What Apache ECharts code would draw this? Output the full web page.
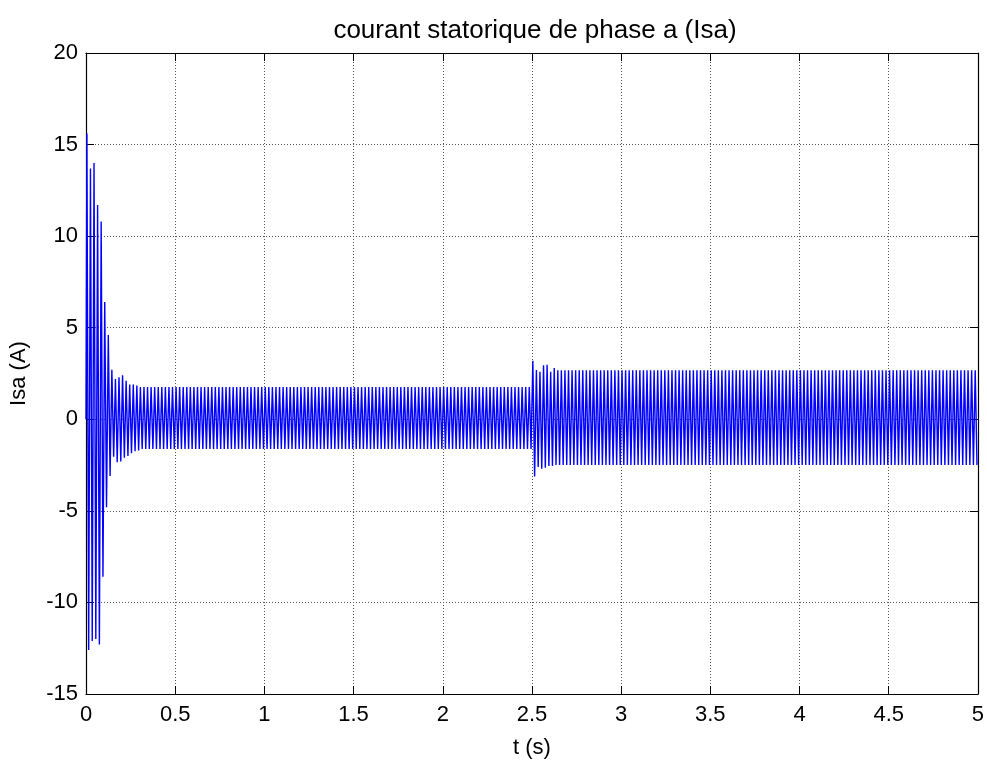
<!DOCTYPE html>
<html>
<head>
<meta charset="utf-8">
<title>courant statorique de phase a (Isa)</title>
<script src="https://cdn.jsdelivr.net/npm/echarts@6/dist/echarts.min.js"></script>
<style>
  html, body { margin: 0; padding: 0; background: #ffffff; }
  #chart { width: 987px; height: 766px; }
</style>
</head>
<body>
<div id="chart"></div>
<script>
// Phase-a stator current: successive half-cycle peaks of the 50 Hz current (A).
// Start-up inrush, settling towards no-load current.
const startPeaks = [
  15.6, -12.6, 13.7, -12.1, 14.0, -12.0, 11.7, -12.3, 10.8, -8.6,
  6.4, -4.8, 4.6, -3.1, 2.7, -2.05, 2.2, -2.35, 2.3, -2.3,
  2.4, -2.1, 2.1, -2.0, 1.9, -1.85, 1.9, -1.75, 1.85, -1.7
];
// Steady running before the load step.
const runPeaks = [
  1.76, -1.62, 1.76, -1.62, 1.76, -1.62, 1.76, -1.62, 1.76, -1.62, 1.76, -1.62, 1.76, -1.62, 1.76, -1.62, 1.76, -1.62, 1.76, -1.62,
  1.76, -1.62, 1.76, -1.62, 1.76, -1.62, 1.76, -1.62, 1.76, -1.62, 1.76, -1.62, 1.76, -1.62, 1.76, -1.62, 1.76, -1.62, 1.76, -1.62,
  1.76, -1.62, 1.76, -1.62, 1.76, -1.62, 1.76, -1.62, 1.76, -1.62, 1.76, -1.62, 1.76, -1.62, 1.76, -1.62, 1.76, -1.62, 1.76, -1.62,
  1.76, -1.62, 1.76, -1.62, 1.76, -1.62, 1.76, -1.62, 1.76, -1.62, 1.76, -1.62, 1.76, -1.62, 1.76, -1.62, 1.76, -1.62, 1.76, -1.62,
  1.76, -1.62, 1.76, -1.62, 1.76, -1.62, 1.76, -1.62, 1.76, -1.62, 1.76, -1.62, 1.76, -1.62, 1.76, -1.62, 1.76, -1.62, 1.76, -1.62,
  1.76, -1.62, 1.76, -1.62, 1.76, -1.62, 1.76, -1.62, 1.76, -1.62, 1.76, -1.62, 1.76, -1.62, 1.76, -1.62, 1.76, -1.62, 1.76, -1.62,
  1.76, -1.62, 1.76, -1.62, 1.76, -1.62, 1.76, -1.62, 1.76, -1.62, 1.76, -1.62, 1.76, -1.62, 1.76, -1.62, 1.76, -1.62, 1.76, -1.62,
  1.76, -1.62, 1.76, -1.62, 1.76, -1.62, 1.76, -1.62, 1.76, -1.62, 1.76, -1.62, 1.76, -1.62, 1.76, -1.62, 1.76, -1.62, 1.76, -1.62,
  1.76, -1.62, 1.76, -1.62, 1.76, -1.62, 1.76, -1.62, 1.76, -1.62, 1.76, -1.62, 1.76, -1.62, 1.76, -1.62, 1.76, -1.62, 1.76, -1.62,
  1.76, -1.62, 1.76, -1.62, 1.76, -1.62, 1.76, -1.62, 1.76, -1.62, 1.76, -1.62, 1.76, -1.62, 1.76, -1.62, 1.76, -1.62, 1.76, -1.62,
  1.76, -1.62, 1.76, -1.62, 1.76, -1.62, 1.76, -1.62, 1.76, -1.62, 1.76, -1.62, 1.76, -1.62, 1.76, -1.62, 1.76, -1.62, 1.76, -1.62
];
// Load applied at t = 2.5 s: short transient.
const stepPeaks = [
  3.2, -3.13, 2.69, -2.6, 2.6, -2.7, 2.95, -2.65, 2.98, -2.55, 2.6, -2.55, 2.8, -2.5
];
// Steady running under load.
const loadPeaks = [
  2.68, -2.5, 2.68, -2.5, 2.68, -2.5, 2.68, -2.5, 2.68, -2.5, 2.68, -2.5, 2.68, -2.5, 2.68, -2.5, 2.68, -2.5, 2.68, -2.5,
  2.68, -2.5, 2.68, -2.5, 2.68, -2.5, 2.68, -2.5, 2.68, -2.5, 2.68, -2.5, 2.68, -2.5, 2.68, -2.5, 2.68, -2.5, 2.68, -2.5,
  2.68, -2.5, 2.68, -2.5, 2.68, -2.5, 2.68, -2.5, 2.68, -2.5, 2.68, -2.5, 2.68, -2.5, 2.68, -2.5, 2.68, -2.5, 2.68, -2.5,
  2.68, -2.5, 2.68, -2.5, 2.68, -2.5, 2.68, -2.5, 2.68, -2.5, 2.68, -2.5, 2.68, -2.5, 2.68, -2.5, 2.68, -2.5, 2.68, -2.5,
  2.68, -2.5, 2.68, -2.5, 2.68, -2.5, 2.68, -2.5, 2.68, -2.5, 2.68, -2.5, 2.68, -2.5, 2.68, -2.5, 2.68, -2.5, 2.68, -2.5,
  2.68, -2.5, 2.68, -2.5, 2.68, -2.5, 2.68, -2.5, 2.68, -2.5, 2.68, -2.5, 2.68, -2.5, 2.68, -2.5, 2.68, -2.5, 2.68, -2.5,
  2.68, -2.5, 2.68, -2.5, 2.68, -2.5, 2.68, -2.5, 2.68, -2.5, 2.68, -2.5, 2.68, -2.5, 2.68, -2.5, 2.68, -2.5, 2.68, -2.5,
  2.68, -2.5, 2.68, -2.5, 2.68, -2.5, 2.68, -2.5, 2.68, -2.5, 2.68, -2.5, 2.68, -2.5, 2.68, -2.5, 2.68, -2.5, 2.68, -2.5,
  2.68, -2.5, 2.68, -2.5, 2.68, -2.5, 2.68, -2.5, 2.68, -2.5, 2.68, -2.5, 2.68, -2.5, 2.68, -2.5, 2.68, -2.5, 2.68, -2.5,
  2.68, -2.5, 2.68, -2.5, 2.68, -2.5, 2.68, -2.5, 2.68, -2.5, 2.68, -2.5, 2.68, -2.5, 2.68, -2.5, 2.68, -2.5, 2.68, -2.5,
  2.68, -2.5, 2.68, -2.5, 2.68, -2.5, 2.68, -2.5, 2.68, -2.5, 2.68, -2.5, 2.68, -2.5, 2.68, -2.5, 2.68, -2.5, 2.68, -2.5,
  2.68, -2.5, 2.68, -2.5, 2.68, -2.5, 2.68, -2.5, 2.68, -2.5, 2.68, -2.5, 2.68, -2.5, 2.68, -2.5
];
// Peaks are one half-period (10 ms at 50 Hz) apart; the first one sits 5 ms in.
const firstPeakTime = 0.005;
const halfPeriod = 0.01;
const startCurrent = 0;

const xTicks = { min: 0, max: 5, step: 0.5 };
const yTicks = { min: -15, max: 20, step: 5 };

const peaks = startPeaks.concat(runPeaks, stepPeaks, loadPeaks);
const points = [[0, startCurrent]];
peaks.forEach(function (v, i) {
  points.push([+(firstPeakTime + halfPeriod * i).toFixed(4), v]);
});

const FONT = "Arial, 'Liberation Sans', Helvetica, sans-serif";
const gridLine = { show: true, lineStyle: { color: '#555555', width: 1, type: [1, 2] } };
const axisLine = { show: true, onZero: false, lineStyle: { color: '#000000', width: 1.2 } };

const chart = echarts.init(document.getElementById('chart'), null, { renderer: 'canvas' });
chart.setOption({
  animation: false,
  backgroundColor: '#ffffff',
  title: {
    text: 'courant statorique de phase a (Isa)',
    left: 530,
    top: 13,
    textAlign: 'center',
    textStyle: { fontFamily: FONT, fontSize: 26, fontWeight: 'normal', color: '#000000' }
  },
  grid: { left: 85, right: 9, top: 53, bottom: 72, containLabel: false },
  xAxis: [
    {
      type: 'value', position: 'bottom',
      min: xTicks.min, max: xTicks.max, interval: xTicks.step,
      name: 't (s)', nameLocation: 'middle', nameGap: 43,
      nameTextStyle: { fontFamily: FONT, fontSize: 22, color: '#000000' },
      axisLine: axisLine,
      axisTick: { show: true, inside: true, length: 8, lineStyle: { color: '#000000' } },
      axisLabel: { fontFamily: FONT, fontSize: 22, color: '#000000', margin: 10 },
      splitLine: gridLine
    },
    {
      type: 'value', position: 'top',
      min: xTicks.min, max: xTicks.max, interval: xTicks.step,
      axisLine: axisLine,
      axisTick: { show: true, inside: true, length: 8, lineStyle: { color: '#000000' } },
      axisLabel: { show: false },
      splitLine: { show: false }
    }
  ],
  yAxis: [
    {
      type: 'value', position: 'left',
      min: yTicks.min, max: yTicks.max, interval: yTicks.step,
      name: 'Isa (A)', nameLocation: 'middle', nameGap: 56, nameRotate: 90,
      nameTextStyle: { fontFamily: FONT, fontSize: 22, color: '#000000' },
      axisLine: axisLine,
      axisTick: { show: true, inside: true, length: 8, lineStyle: { color: '#000000' } },
      axisLabel: { fontFamily: FONT, fontSize: 22, color: '#000000', margin: 8 },
      splitLine: gridLine
    },
    {
      type: 'value', position: 'right',
      min: yTicks.min, max: yTicks.max, interval: yTicks.step,
      axisLine: axisLine,
      axisTick: { show: true, inside: true, length: 8, lineStyle: { color: '#000000' } },
      axisLabel: { show: false },
      splitLine: { show: false }
    }
  ],
  series: [
    {
      type: 'line',
      xAxisIndex: 0,
      yAxisIndex: 0,
      data: points,
      showSymbol: false,
      symbol: 'none',
      sampling: false,
      clip: true,
      lineStyle: { color: '#0000ff', width: 1.4 },
      emphasis: { disabled: true }
    }
  ]
});
</script>
</body>
</html>
